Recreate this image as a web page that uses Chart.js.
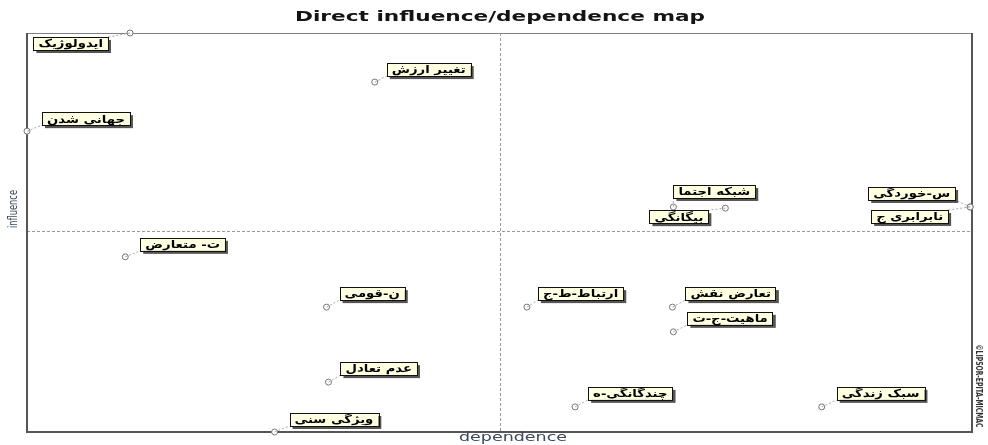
<!DOCTYPE html>
<html>
<head>
<meta charset="utf-8">
<script src="https://cdn.jsdelivr.net/npm/chart.js@4.4.1/dist/chart.umd.min.js"></script>
<style>
    body { margin: 0; background: #fff; }
    #myChart { display: block; }
</style>
</head>
<body>
<canvas id="myChart" width="988" height="445"></canvas>
<script>
var variabili = [
    'ایدولوژیک', 'تغییر ارزش', 'جهانی شدن', 'شبکه اجتما', 'بیگانگی', 'س-خوردگی',
    'نابرابری ج', 'ت- متعارض', 'ن-قومی', 'عدم تعادل', 'ویژگی سنی', 'ارتباط-ط-ج',
    'تعارض نقش', 'ماهیت-ج-ت', 'چندگانگی-ه', 'سبک زندگی'
];
var dipendenza = [10.9, 36.8, 0, 68.4, 73.9, 99.8, 99.8, 10.4, 31.7, 31.9, 26.2, 52.9, 68.3, 68.4, 58.0, 84.1];
var influenza = [100, 87.7, 75.4, 56.4, 56.1, 56.4, 56.4, 43.9, 31.3, 12.5, 0, 31.3, 31.3, 25.1, 6.3, 6.3];
var media_x = 50;
var media_y = 50.4;

// posizione delle etichette rispetto al punto: [dx, dy, lato]
var posizioni = [
    [-22, 4, 'R'], [12, -19, 'L'], [15, -19, 'L'], [0, -22, 'L'], [-17, 2, 'R'], [-15, -20, 'R'],
    [-22, 3, 'R'], [15, -19, 'L'], [13, -20, 'L'], [12, -20, 'L'], [15, -19, 'L'], [11, -20, 'L'],
    [13, -20, 'L'], [14, -20, 'L'], [13, -20, 'L'], [15, -20, 'L']
];

var punti = [];
for (var i = 0; i < variabili.length; i++) {
    punti.push({x: dipendenza[i], y: influenza[i]});
}

function testo_largo(ctx, testo, x, y, larghezza) {
    var w = ctx.measureText(testo).width;
    ctx.save();
    ctx.translate(x, y);
    ctx.scale(larghezza / w, 1);
    ctx.fillText(testo, 0, 0);
    ctx.restore();
}

var cornice = {
    id: 'cornice',
    beforeDatasetsDraw: function(chart) {
        var ctx = chart.ctx;
        var a = chart.chartArea;
        var xs = chart.scales.x;
        var ys = chart.scales.y;
        ctx.save();
        // linee dei quadranti
        ctx.strokeStyle = '#9a9a9a';
        ctx.lineWidth = 1;
        ctx.setLineDash([3, 2]);
        var mx = Math.round(xs.getPixelForValue(media_x)) + 0.5;
        var my = Math.round(ys.getPixelForValue(media_y)) + 0.5;
        ctx.beginPath();
        ctx.moveTo(mx, a.top);
        ctx.lineTo(mx, a.bottom);
        ctx.moveTo(a.left, my);
        ctx.lineTo(a.right, my);
        ctx.stroke();
        ctx.setLineDash([]);
        // bordo
        ctx.strokeStyle = '#808080';
        ctx.beginPath();
        ctx.moveTo(a.left, a.top + 0.5);
        ctx.lineTo(a.right, a.top + 0.5);
        ctx.stroke();
        ctx.strokeStyle = '#555';
        ctx.lineWidth = 2;
        ctx.beginPath();
        ctx.moveTo(a.left, a.top);
        ctx.lineTo(a.left, a.bottom);
        ctx.lineTo(a.right, a.bottom);
        ctx.lineTo(a.right, a.top);
        ctx.stroke();

        // titolo e assi
        ctx.fillStyle = '#141414';
        ctx.font = 'bold 14px "DejaVu Sans"';
        ctx.textAlign = 'center';
        ctx.textBaseline = 'middle';
        testo_largo(ctx, 'Direct influence/dependence map', 500, 17, 410);
        ctx.fillStyle = '#3c4a5e';
        ctx.font = '12px "DejaVu Sans"';
        testo_largo(ctx, 'dependence', 513, 438, 108);
        ctx.save();
        ctx.translate(14, 209);
        ctx.rotate(-Math.PI / 2);
        ctx.font = '12px "DejaVu Sans Condensed"';
        testo_largo(ctx, 'influence', 0, 0, 38);
        ctx.restore();
        ctx.save();
        ctx.translate(978, 386);
        ctx.rotate(Math.PI / 2);
        ctx.fillStyle = '#333';
        ctx.font = 'bold 8px "DejaVu Sans Condensed"';
        testo_largo(ctx, '©LIPSOR-EPITA-MICMAC', 0, 0, 83);
        ctx.restore();
        ctx.restore();
    },
    afterDatasetsDraw: function(chart) {
        var ctx = chart.ctx;
        var xs = chart.scales.x;
        var ys = chart.scales.y;
        ctx.save();
        ctx.font = 'bold 11px "DejaVu Sans"';
        ctx.textBaseline = 'middle';
        ctx.textAlign = 'center';
        ctx.direction = 'rtl';
        for (var i = 0; i < variabili.length; i++) {
            var px = xs.getPixelForValue(dipendenza[i]);
            var py = ys.getPixelForValue(influenza[i]);
            var tw = ctx.measureText(variabili[i]).width * 1.2;
            var w = tw + 10;
            var h = 13;
            var p = posizioni[i];
            var left = p[2] == 'L' ? px + p[0] : px + p[0] - w;
            var top = py + p[1];
            var cx = p[2] == 'L' ? left : left + w;
            var cy = p[1] < 0 ? top + h : top;
            // linea guida
            ctx.strokeStyle = '#a8a8a8';
            ctx.lineWidth = 1;
            ctx.setLineDash([2, 2]);
            ctx.beginPath();
            ctx.moveTo(px, py);
            ctx.lineTo(cx, cy);
            ctx.stroke();
            ctx.setLineDash([]);
            // ombra e riquadro
            ctx.fillStyle = '#555';
            ctx.fillRect(left + 3, top + 3, w, h);
            ctx.fillStyle = '#ffffe1';
            ctx.fillRect(left, top, w, h);
            ctx.strokeStyle = '#111';
            ctx.strokeRect(Math.round(left) + 0.5, Math.round(top) + 0.5, Math.round(w), h);
            ctx.fillStyle = '#000';
            testo_largo(ctx, variabili[i], left + w / 2, top + h / 2 + 1, tw);
        }
        ctx.restore();
    }
};

var ctx = document.getElementById('myChart').getContext('2d');
var myChart = new Chart(ctx, {
    type: 'scatter',
    data: {
        datasets: [{
            data: punti,
            pointRadius: 3,
            pointBackgroundColor: '#fff',
            pointBorderColor: '#777',
            pointBorderWidth: 1,
            clip: false
        }]
    },
    options: {
        responsive: false,
        animation: false,
        devicePixelRatio: 1,
        layout: {
            padding: {left: 27, right: 16, top: 33, bottom: 13}
        },
        scales: {
            x: {type: 'linear', min: 0, max: 100, display: false},
            y: {type: 'linear', min: 0, max: 100, display: false}
        },
        plugins: {
            legend: {display: false},
            tooltip: {enabled: false}
        }
    },
    plugins: [cornice]
});
</script>
</body>
</html>
